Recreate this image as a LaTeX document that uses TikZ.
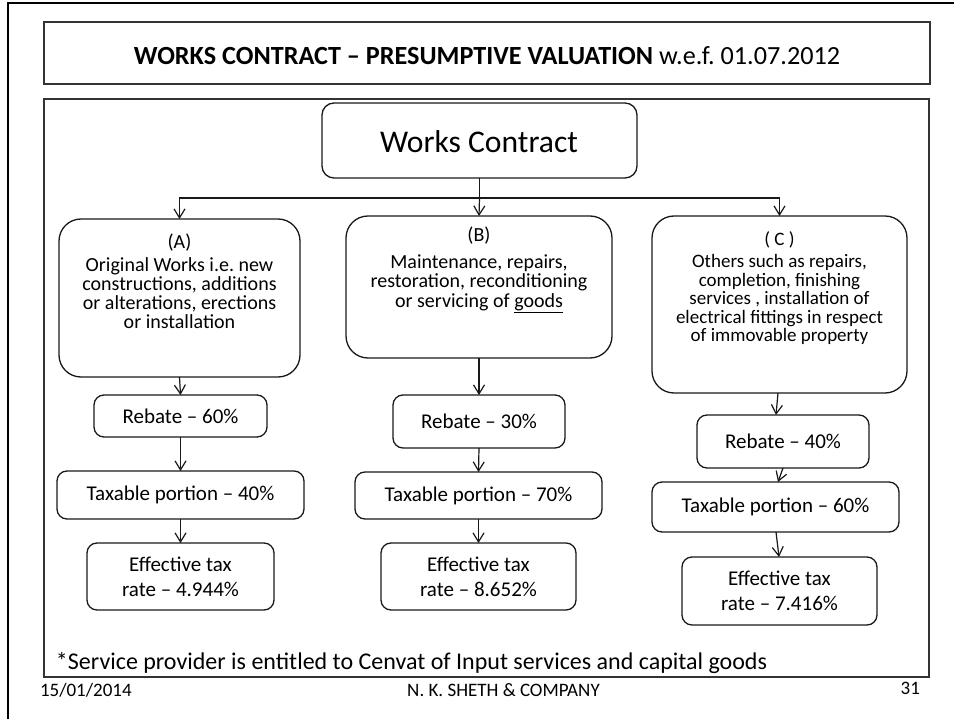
\documentclass[tikz,border=0pt]{standalone}
\usepackage{fontspec}
\setmainfont{Carlito}
\usetikzlibrary{arrows.meta}
\lineskiplimit=-50pt
\frenchspacing
\begin{document}
\frenchspacing
\begin{tikzpicture}[x=1pt,y=-1pt,
  box/.style={draw=black!90, line width=1.3pt, rounded corners=10pt, inner sep=0pt, outer sep=0pt, align=center},
  bigbox/.style={box, rounded corners=22pt},
  panel/.style={draw=black!80, line width=1.2pt, inner sep=0pt, outer sep=0pt},
  lbl/.style={inner sep=0pt, outer sep=0pt, align=center},
  low/.style={font=\fontsize{21}{25}\selectfont},
  conn/.style={draw=black!90, line width=1.2pt, -{Straight Barb[length=9pt,width=11pt]}},
  link/.style={draw=black!90, line width=1.2pt},
]
\useasboundingbox (0,0) rectangle (954,719);
\fill[white] (0,0) rectangle (954,719);
% slide frame
\draw[line width=2.5pt] (8,719) -- (8,3) -- (954,3);
% title panel
\node[panel, minimum width=886, minimum height=62] (tp) at (487,53) {};
\node[lbl, anchor=base, font=\fontsize{26.2}{30}\selectfont] (title) at (487,65) {\textbf{WORKS CONTRACT – PRESUMPTIVE VALUATION} w.e.f. 01.07.2012};
% content panel
\node[panel, minimum width=885, minimum height=578] (cp) at (486.5,388) {};
% top box
\node[box, rounded corners=12pt, minimum width=315, minimum height=75] (wc) at (479.5,140.5) {};
\node[lbl, anchor=base, font=\fontsize{31.6}{36}\selectfont] (wct) at (479,153) {Works Contract};
% branch boxes
\node[bigbox, minimum width=241, minimum height=158] (a) at (179.5,298) {};
\node[bigbox, minimum width=266, minimum height=142] (b) at (479,287) {};
\node[bigbox, minimum width=255, minimum height=177] (c) at (779.5,304.5) {};
\node[lbl, anchor=north, font=\fontsize{20}{19}\selectfont] (ta) at (179.5,233.5)
  {(A)\\[4pt]Original Works i.e. new\\constructions, additions\\or alterations, erections\\or installation};
\node[lbl, anchor=north, font=\fontsize{20}{19.5}\selectfont] (tb) at (479,226.5)
  {(B)\\[7.5pt]Maintenance, repairs,\\restoration, reconditioning\\or servicing of \underline{goods}};
\node[lbl, anchor=north, font=\fontsize{19}{18.5}\selectfont] (tc) at (779.5,232)
  {( C )\\[3.5pt]Others such as repairs,\\completion, finishing\\services , installation of\\electrical fittings in respect\\of immovable property};
% rebate boxes
\node[box, low, minimum width=173, minimum height=42] (ra) at (180.5,416) {Rebate – 60\%};
\node[box, low, minimum width=172, minimum height=53] (rb) at (479,421.5) {Rebate – 30\%};
\node[box, low, minimum width=172, minimum height=53] (rc) at (783,441.5) {Rebate – 40\%};
% taxable boxes
\node[box, low, minimum width=247, minimum height=48] (xa) at (180.5,495) {Taxable portion – 40\%};
\node[box, low, minimum width=247, minimum height=47] (xb) at (478.5,495.5) {Taxable portion – 70\%};
\node[box, low, minimum width=247, minimum height=50] (xc) at (775.5,507) {Taxable portion – 60\%};
% effective boxes
\node[box, low, minimum width=187, minimum height=67] (ea) at (180.5,576.5) {Effective tax\\rate – 4.944\%};
\node[box, low, minimum width=195, minimum height=67] (eb) at (478.5,576.5) {Effective tax\\rate – 8.652\%};
\node[box, low, minimum width=195, minimum height=68] (ec) at (779.5,591) {Effective tax\\rate – 7.416\%};
% connectors from top box
\coordinate (j) at (479.5,198);
\draw[link] (wc.south) -- (j);
\draw[conn] (j) -| (a.north);
\draw[conn] (j) -| (c.north);
\draw[conn] (j) -- (b.north);
% column A
\draw[conn] (a.south) -- (ra.north);
\draw[conn] (ra.south) -- (xa.north);
\draw[conn] (xa.south) -- (ea.north);
% column B
\draw[conn] (b.south) -- (rb.north);
\draw[conn] (rb.south) -- (xb.north);
\draw[conn] (xb.south) -- (eb.north);
% column C
\draw[conn] ([xshift=-1.5pt]c.south) -- ([xshift=-7pt]rc.north);
\draw[conn] (rc.south) -- ([xshift=2.5pt]xc.north);
\draw[conn] ([xshift=0.5pt]xc.south) -- ([xshift=-0.5pt]ec.north);
% footnote and footer
\node[lbl, anchor=base west, font=\fontsize{24}{28}\selectfont] (fn) at (56,669) {*Service provider is entitled to Cenvat of Input services and capital goods};
\node[lbl, anchor=base west, font=\fontsize{19}{21}\selectfont] (date) at (40,696) {15/01/2014};
\node[lbl, anchor=base, font=\fontsize{19}{21}\selectfont] (firm) at (503.5,696) {N. K. SHETH \& COMPANY};
\node[lbl, anchor=base east, font=\fontsize{19}{21}\selectfont] (page) at (920,694) {31};
\end{tikzpicture}
\end{document}
